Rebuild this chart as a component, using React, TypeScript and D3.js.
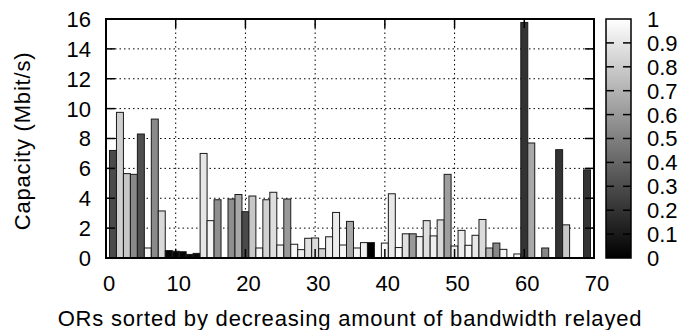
import { useEffect, useRef } from 'react';
import * as d3 from 'd3';

// ─── Data ───────────────────────────────────────────────────

// OR index (x), measured capacity (Mbit/s) and palette value (0 = black, 1 = white).
// null = no bar for that OR
const ORS = d3.range(1, 70);

const CAPACITY: (number | null)[] = [
  7.2, 9.75, 5.65, 5.6, 8.3, 0.67, 9.3, 3.15, 0.5, 0.45,
  0.42, 0.24, 0.31, 7.0, 2.5, 3.9, null, 3.95, 4.25, 3.1,
  4.15, 0.67, 3.9, 4.4, 0.87, 3.95, 0.92, 0.56, 1.32, 1.34,
  0.62, 1.42, 3.05, 0.87, 2.45, 0.67, 1.03, 1.03, null, 1.0,
  4.3, 0.7, 1.62, 1.62, 1.43, 2.5, 1.48, 2.55, 5.6, 0.8,
  1.85, 0.85, 1.52, 2.58, 0.67, 1.0, 0.58, null, 0.27, 15.77,
  7.7, null, 0.67, null, 7.25, 2.22, null, null, 5.9,
];

const SHADE: (number | null)[] = [
  0.29, 0.81, 0.78, 0.54, 0.31, 0.96, 0.54, 0.85, 0.02, 0.03,
  0.02, 0.03, 0.04, 0.9, 0.96, 0.56, null, 0.56, 0.66, 0.29,
  0.78, 0.96, 0.82, 0.87, 0.94, 0.6, 0.97, 0.93, 0.88, 0.86,
  0.82, 0.93, 0.92, 0.96, 0.66, 0.96, 0.94, 0.0, null, 0.97,
  0.91, 0.98, 0.88, 0.6, 0.94, 0.87, 0.94, 0.85, 0.62, 0.94,
  0.92, 0.96, 0.91, 0.86, 0.72, 0.53, 0.96, null, 0.97, 0.2,
  0.66, null, 0.53, null, 0.2, 0.78, null, null, 0.2,
];

const X_TICKS = [0, 10, 20, 30, 40, 50, 60, 70];
const Y_TICKS = [0, 2, 4, 6, 8, 10, 12, 14, 16];
const CB_TICKS = [0, 0.1, 0.2, 0.3, 0.4, 0.5, 0.6, 0.7, 0.8, 0.9, 1];

// ─── Layout ─────────────────────────────────────────────────

const W = 688;
const H = 330;
const PLOT = { left: 106, right: 594, top: 19, bottom: 258 };
const CBAR = { left: 606, right: 631 };
const FONT = '"Liberation Sans", Arial, Helvetica, sans-serif';
const TICK = 9;

const gray = (v: number) => {
  const c = Math.round(v * 255);
  return `rgb(${c},${c},${c})`;
};

export default function App() {
  const svgRef = useRef<SVGSVGElement>(null);

  useEffect(() => {
    if (!svgRef.current) return;
    const svg = d3.select(svgRef.current);
    svg.selectAll('*').remove();

    const x = d3.scaleLinear().domain([0, 70]).range([PLOT.left, PLOT.right]);
    const y = d3.scaleLinear().domain([0, 16]).range([PLOT.bottom, PLOT.top]);
    const c = d3.scaleLinear().domain([0, 1]).range([PLOT.bottom, PLOT.top]);

    svg.append('rect').attr('width', W).attr('height', H).attr('fill', '#fff');

    // Grid (dotted, behind bars)
    const grid = svg.append('g')
      .attr('stroke', '#000')
      .attr('stroke-width', 1)
      .attr('stroke-dasharray', '1.5 3');
    grid.selectAll('.gy')
      .data(Y_TICKS.filter((t) => t > 0 && t < 16))
      .join('line')
      .attr('x1', PLOT.left).attr('x2', PLOT.right)
      .attr('y1', (d) => y(d)).attr('y2', (d) => y(d));
    grid.selectAll('.gx')
      .data(X_TICKS.filter((t) => t > 0 && t < 70))
      .join('line')
      .attr('y1', PLOT.top).attr('y2', PLOT.bottom)
      .attr('x1', (d) => x(d)).attr('x2', (d) => x(d));

    // Bars
    const bars = ORS.map((o, i) => ({ o, v: CAPACITY[i], s: SHADE[i] }))
      .filter((d) => d.v !== null);
    const bw = x(1) - x(0);
    svg.append('g')
      .selectAll('rect')
      .data(bars)
      .join('rect')
      .attr('x', (d) => x(d.o) - bw / 2)
      .attr('y', (d) => y(d.v as number))
      .attr('width', bw)
      .attr('height', (d) => y(0) - y(d.v as number))
      .attr('fill', (d) => gray(d.s as number))
      .attr('stroke', '#1a1a1a')
      .attr('stroke-width', 1);

    // Ticks (inward, mirrored)
    const ticks = svg.append('g').attr('stroke', '#000').attr('stroke-width', 1.5);
    Y_TICKS.forEach((t) => {
      ticks.append('line').attr('x1', PLOT.left).attr('x2', PLOT.left + TICK)
        .attr('y1', y(t)).attr('y2', y(t));
      ticks.append('line').attr('x1', PLOT.right).attr('x2', PLOT.right - TICK)
        .attr('y1', y(t)).attr('y2', y(t));
    });
    X_TICKS.forEach((t) => {
      ticks.append('line').attr('y1', PLOT.bottom).attr('y2', PLOT.bottom - TICK)
        .attr('x1', x(t)).attr('x2', x(t));
      ticks.append('line').attr('y1', PLOT.top).attr('y2', PLOT.top + TICK)
        .attr('x1', x(t)).attr('x2', x(t));
    });

    // Border
    svg.append('rect')
      .attr('x', PLOT.left).attr('y', PLOT.top)
      .attr('width', PLOT.right - PLOT.left).attr('height', PLOT.bottom - PLOT.top)
      .attr('fill', 'none').attr('stroke', '#000').attr('stroke-width', 2);

    // Tick labels
    const labels = svg.append('g')
      .attr('font-family', FONT).attr('font-size', 22).attr('fill', '#000');
    labels.selectAll('.yl')
      .data(Y_TICKS)
      .join('text')
      .attr('x', PLOT.left - 15)
      .attr('y', (d) => y(d))
      .attr('dy', '0.36em')
      .attr('text-anchor', 'end')
      .text((d) => d);
    labels.selectAll('.xl')
      .data(X_TICKS)
      .join('text')
      .attr('x', (d) => x(d) + 3)
      .attr('y', 291)
      .attr('text-anchor', 'middle')
      .text((d) => d);

    // Axis titles
    labels.append('text')
      .attr('x', 350)
      .attr('y', 325.5)
      .attr('text-anchor', 'middle')
      .attr('letter-spacing', 0.8)
      .text('ORs sorted by decreasing amount of bandwidth relayed');
    labels.append('text')
      .attr('transform', `translate(29.5,141) rotate(-90)`)
      .attr('text-anchor', 'middle')
      .attr('letter-spacing', 0.8)
      .text('Capacity (Mbit/s)');

    // Colour box
    const grad = svg.append('defs').append('linearGradient')
      .attr('id', 'cb-grad')
      .attr('x1', 0).attr('y1', 1).attr('x2', 0).attr('y2', 0);
    grad.append('stop').attr('offset', 0).attr('stop-color', gray(0));
    grad.append('stop').attr('offset', 1).attr('stop-color', gray(1));
    svg.append('rect')
      .attr('x', CBAR.left).attr('y', PLOT.top)
      .attr('width', CBAR.right - CBAR.left).attr('height', PLOT.bottom - PLOT.top)
      .attr('fill', 'url(#cb-grad)')
      .attr('stroke', '#000').attr('stroke-width', 1.5);
    const cbt = svg.append('g').attr('stroke', '#000').attr('stroke-width', 1.5);
    CB_TICKS.filter((t) => t > 0 && t < 1).forEach((t) => {
      cbt.append('line').attr('x1', CBAR.left).attr('x2', CBAR.left + 8)
        .attr('y1', c(t)).attr('y2', c(t));
      cbt.append('line').attr('x1', CBAR.right).attr('x2', CBAR.right - 8)
        .attr('y1', c(t)).attr('y2', c(t));
    });
    labels.selectAll('.cl')
      .data(CB_TICKS)
      .join('text')
      .attr('x', 647)
      .attr('y', (d) => c(d))
      .attr('dy', '0.36em')
      .attr('text-anchor', 'start')
      .text((d) => d);
  }, []);

  return (
    <svg
      ref={svgRef}
      width={W}
      height={H}
      style={{ position: 'absolute', left: 0, top: 0, display: 'block' }}
    />
  );
}
